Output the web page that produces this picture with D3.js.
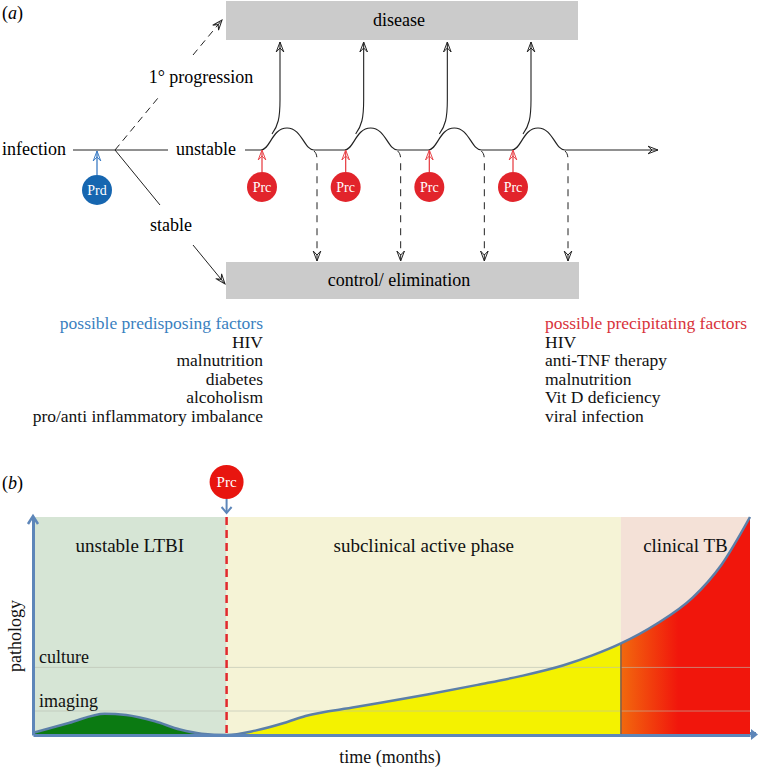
<!DOCTYPE html>
<html>
<head>
<meta charset="utf-8">
<script src="https://cdn.jsdelivr.net/npm/d3@7"></script>
<style>
  body { margin: 0; background: #fff; }
  text { font-family: "Liberation Serif", "Times New Roman", serif; }
</style>
</head>
<body>
<div id="chart"></div>
<script>
// ---- data ----
const episodes = [0, 1, 2, 3];
const predisposing = ["HIV", "malnutrition", "diabetes", "alcoholism", "pro/anti inflammatory imbalance"];
const precipitating = ["HIV", "anti-TNF therapy", "malnutrition", "Vit D deficiency", "viral infection"];

const phaseNames = ["unstable LTBI", "subclinical active phase", "clinical TB"];
const phaseStart = [0, 27, 82];
const phaseEnd = [27, 82, 100];
const thresholdNames = ["culture", "imaging"];
const thresholdLevels = [31, 11];

// pathology over time (arbitrary units)
const timePts = [0, 5, 10, 13, 17, 20.5, 23.5, 27, 31, 35, 38, 45, 55, 62, 68, 74, 78, 82, 87, 92, 96, 100];
const pathPts = [1, 5.5, 9.8, 9.2, 6.3, 2.5, 0.6, 0, 2, 5.5, 8.7, 12.8, 18.6, 23, 27, 32, 36.5, 42, 51, 63, 78, 100];
const precipTime = 27;

const width = 762, height = 769;
const svg = d3.select("#chart").append("svg")
  .attr("width", width)
  .attr("height", height);

const defs = svg.append("defs");
function marker(id, color) {
  defs.append("marker")
    .attr("id", id)
    .attr("viewBox", "-11 -5 12 10")
    .attr("refX", 0).attr("refY", 0)
    .attr("markerWidth", 12).attr("markerHeight", 10)
    .attr("markerUnits", "userSpaceOnUse")
    .attr("orient", "auto")
    .append("path")
    .attr("d", "M-10,-3.8 L0,0 L-10,3.8 M-10,-3.8 L-6,0 L-10,3.8")
    .attr("fill", "none")
    .attr("stroke", color)
    .attr("stroke-width", 1);
}
marker("arrK", "#222");
marker("arrR", "#e8454a");
marker("arrB", "#3c7cc4");

// ================= panel (a) =================
const a = svg.append("g");
const lineY = 150;
const xEp = d3.scaleLinear().domain([0, 3]).range([261, 512]);

a.append("text").attr("x", 2).attr("y", 19).attr("font-size", 18)
  .html("(<tspan font-style='italic'>a</tspan>)");

// boxes
a.append("rect").attr("x", 226).attr("y", 1).attr("width", 352).attr("height", 39).attr("fill", "#cbcbcb");
a.append("text").attr("x", 399).attr("y", 26).attr("text-anchor", "middle").attr("font-size", 18).text("disease");
a.append("rect").attr("x", 226).attr("y", 262).attr("width", 353).attr("height", 37).attr("fill", "#cbcbcb");
a.append("text").attr("x", 399).attr("y", 286).attr("text-anchor", "middle").attr("font-size", 18).text("control/ elimination");

// infection line
a.append("text").attr("x", 66).attr("y", 155).attr("text-anchor", "end").attr("font-size", 18).text("infection");
a.append("path").attr("d", "M73,150 L168,150").attr("stroke", "#222").attr("fill", "none");

// primary progression (dashed) and stable branches
a.append("path").attr("d", "M115,150 L158,98 M193,55 L222,20")
  .attr("stroke", "#222").attr("stroke-dasharray", "7,5").attr("fill", "none")
  .attr("marker-end", "url(#arrK)");
a.append("text").attr("x", 201).attr("y", 83).attr("text-anchor", "middle").attr("font-size", 18).text("1° progression");
a.append("path").attr("d", "M115,150 L160,205 M193,245 L225,284")
  .attr("stroke", "#222").attr("fill", "none").attr("marker-end", "url(#arrK)");
a.append("text").attr("x", 171).attr("y", 231).attr("text-anchor", "middle").attr("font-size", 18).text("stable");

a.append("text").attr("x", 206).attr("y", 155).attr("text-anchor", "middle").attr("font-size", 18).text("unstable");

// unstable line with reactivation bumps
let d = `M245,${lineY}`;
episodes.forEach(i => {
  const s = xEp(i);
  d += ` L${s},${lineY} C${s + 9},${lineY} ${s + 11},128 ${s + 26},128 C${s + 41},128 ${s + 43},${lineY} ${s + 53},${lineY}`;
});
d += ` L658,${lineY}`;
a.append("path").attr("d", d).attr("stroke", "#222").attr("stroke-width", 1.2).attr("fill", "none")
  .attr("marker-end", "url(#arrK)");

// branches up to disease
a.selectAll(".up").data(episodes).enter().append("path")
  .attr("d", i => { const s = xEp(i); return `M${s + 11},134 C${s + 17},126 ${s + 19},118 ${s + 19},100 L${s + 19},42`; })
  .attr("stroke", "#222").attr("stroke-width", 1.1).attr("fill", "none").attr("marker-end", "url(#arrK)");

// dashed down to control
a.selectAll(".down").data(episodes).enter().append("path")
  .attr("d", i => { const s = xEp(i); return `M${s + 53},151 C${s + 55},153 ${s + 56},155 ${s + 56},160 L${s + 56},261`; })
  .attr("stroke", "#222").attr("stroke-dasharray", "7,6").attr("fill", "none").attr("marker-end", "url(#arrK)");

// Prc circles
const prc = a.selectAll(".prc").data(episodes).enter().append("g")
  .attr("transform", i => `translate(${xEp(i) + 1},187)`);
prc.append("path").attr("d", "M0,-15 L0,-37").attr("stroke", "#e8454a").attr("stroke-width", 1.3)
  .attr("marker-end", "url(#arrR)");
prc.append("circle").attr("r", 15).attr("fill", "#e2242b");
prc.append("text").attr("y", 5).attr("text-anchor", "middle").attr("font-size", 14).attr("fill", "#fff").text("Prc");

// Prd circle
const prd = a.append("g").attr("transform", "translate(97,190)");
prd.append("path").attr("d", "M0,-15 L0,-39").attr("stroke", "#3c7cc4").attr("stroke-width", 1.3)
  .attr("marker-end", "url(#arrB)");
prd.append("circle").attr("r", 15).attr("fill", "#1666b0");
prd.append("text").attr("y", 5).attr("text-anchor", "middle").attr("font-size", 14).attr("fill", "#fff").text("Prd");

// factor lists
const rowY = [329, 347.5, 366, 384.5, 403, 421.5];
a.append("text").attr("x", 263).attr("y", rowY[0]).attr("text-anchor", "end").attr("font-size", 17.5)
  .attr("fill", "#3a7fc0").text("possible predisposing factors");
a.selectAll(".pre").data(predisposing).enter().append("text")
  .attr("x", 263).attr("y", (t, i) => rowY[i + 1]).attr("text-anchor", "end").attr("font-size", 17.5)
  .attr("fill", "#111").text(t => t);
a.append("text").attr("x", 545).attr("y", rowY[0]).attr("font-size", 17.5)
  .attr("fill", "#d8333b").text("possible precipitating factors");
a.selectAll(".pcp").data(precipitating).enter().append("text")
  .attr("x", 545).attr("y", (t, i) => rowY[i + 1]).attr("font-size", 17.5)
  .attr("fill", "#111").text(t => t);

// ================= panel (b) =================
const b = svg.append("g");
const x = d3.scaleLinear().domain([0, 100]).range([33, 750]);
const y = d3.scaleLinear().domain([0, 100]).range([735, 517]);
const phaseColors = ["#d6e5d5", "#f5f3d6", "#f4e1d7"];
const fillColors = ["#0b7a12", "#f4f200", "url(#redGrad)"];

const grad = defs.append("linearGradient").attr("id", "redGrad")
  .attr("gradientUnits", "userSpaceOnUse")
  .attr("x1", x(82)).attr("x2", x(90)).attr("y1", 0).attr("y2", 0);
grad.append("stop").attr("offset", 0).attr("stop-color", "#f2690e");
grad.append("stop").attr("offset", 1).attr("stop-color", "#f1160c");

b.append("text").attr("x", 2).attr("y", 489).attr("font-size", 18)
  .html("(<tspan font-style='italic'>b</tspan>)");

b.selectAll(".phase").data(phaseNames).enter().append("rect")
  .attr("x", (n, i) => x(phaseStart[i]))
  .attr("width", (n, i) => x(phaseEnd[i]) - x(phaseStart[i]))
  .attr("y", y(100)).attr("height", y(0) - y(100))
  .attr("fill", (n, i) => phaseColors[i]);

const pts = timePts.map((t, i) => [t, pathPts[i]]);
const area = d3.area().x(p => x(p[0])).y0(y(0)).y1(p => y(p[1])).curve(d3.curveMonotoneX);
const line = d3.line().x(p => x(p[0])).y(p => y(p[1])).curve(d3.curveMonotoneX);

phaseNames.forEach((n, i) => {
  defs.append("clipPath").attr("id", "clip" + i).append("rect")
    .attr("x", x(phaseStart[i])).attr("width", x(phaseEnd[i]) - x(phaseStart[i]))
    .attr("y", y(100) - 5).attr("height", y(0) - y(100) + 5);
  b.append("path").datum(pts).attr("d", area).attr("fill", fillColors[i])
    .attr("clip-path", `url(#clip${i})`);
});

// threshold lines
b.selectAll(".thr").data(thresholdLevels).enter().append("line")
  .attr("x1", x(0)).attr("x2", x(100))
  .attr("y1", v => y(v)).attr("y2", v => y(v))
  .attr("stroke", "#b9bfb0").attr("stroke-opacity", 0.6).attr("stroke-width", 1);
b.selectAll(".thrl").data(thresholdNames).enter().append("text")
  .attr("x", 39).attr("y", (n, i) => y(thresholdLevels[i]) - 4)
  .attr("font-size", 18).attr("fill", "#111").text(n => n);

// boundary into clinical TB
b.append("line").attr("x1", x(82)).attr("x2", x(82)).attr("y1", y(0)).attr("y2", y(42))
  .attr("stroke", "#7a5c52").attr("stroke-width", 1.5);

// pathology curve
b.append("path").datum(pts).attr("d", line).attr("fill", "none")
  .attr("stroke", "#5b7fa8").attr("stroke-width", 2.5);

// phase labels
b.selectAll(".pl").data(phaseNames).enter().append("text")
  .attr("x", (n, i) => x((phaseStart[i] + phaseEnd[i]) / 2))
  .attr("y", 552).attr("text-anchor", "middle").attr("font-size", 19)
  .attr("fill", "#111").text(n => n);

// precipitating event line
b.append("line").attr("x1", x(precipTime)).attr("x2", x(precipTime))
  .attr("y1", y(100)).attr("y2", y(0))
  .attr("stroke", "#e2292e").attr("stroke-width", 2.5).attr("stroke-dasharray", "8,5");

// axes
const axisColor = "#5d86b9";
b.append("g").attr("transform", `translate(0,${y(0)})`)
  .call(d3.axisBottom(x).tickValues([]).tickSizeOuter(0))
  .select(".domain").attr("stroke", axisColor).attr("stroke-width", 3);
b.append("g").attr("transform", `translate(${x(0)},0)`)
  .call(d3.axisLeft(y).tickValues([]).tickSizeOuter(0))
  .select(".domain").attr("stroke", axisColor).attr("stroke-width", 3);
b.append("path").attr("d", `M${x(0) - 5},${y(100) + 7} L${x(0)},${y(100) - 1} L${x(0) + 5},${y(100) + 7}`)
  .attr("fill", "none").attr("stroke", axisColor).attr("stroke-width", 2.5);
b.append("path").attr("d", `M${x(100)},${y(0) - 1.5} L${x(100) + 6},${y(0) - 1.5}`)
  .attr("stroke", axisColor).attr("stroke-width", 3);
b.append("path").attr("d", `M${x(100) + 1},${y(0) - 6} L${x(100) + 8},${y(0) - 0.5} L${x(100) + 1},${y(0) + 5} Z`)
  .attr("fill", axisColor);

b.append("text").attr("x", 390).attr("y", 763).attr("text-anchor", "middle").attr("font-size", 18)
  .attr("fill", "#111").text("time (months)");
b.append("text").attr("transform", "translate(21,636) rotate(-90)").attr("text-anchor", "middle")
  .attr("font-size", 18).attr("fill", "#111").text("pathology");

// Prc event marker
const pb = b.append("g").attr("transform", `translate(${x(precipTime)},482)`);
pb.append("circle").attr("r", 17).attr("fill", "#e8150f");
pb.append("text").attr("y", 5).attr("text-anchor", "middle").attr("font-size", 15).attr("fill", "#fff").text("Prc");
pb.append("path").attr("d", "M0,17 L0,31").attr("stroke", axisColor).attr("stroke-width", 2);
pb.append("path").attr("d", "M-5,25 L0,31 L5,25").attr("fill", "none").attr("stroke", axisColor).attr("stroke-width", 2);
</script>
</body>
</html>
